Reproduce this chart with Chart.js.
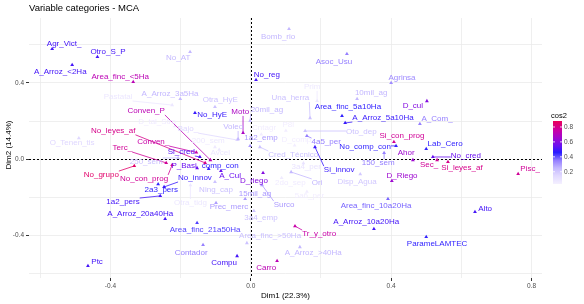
<!DOCTYPE html>
<html>
<head>
<meta charset="utf-8">
<script src="https://cdn.jsdelivr.net/npm/chart.js@4.4.1/dist/chart.umd.min.js"></script>
<style>
  html, body { margin: 0; padding: 0; background: #fff; }
  #wrap { width: 584px; height: 304px; }
</style>
</head>
<body>
<div id="wrap"><canvas id="mca" width="584" height="304"></canvas></div>
<script>
// --- 1. Data ---
const categories = [
  'Agr_Vict_', 'Otro_S_P', 'A_Arroz_<2Ha', 'Area_finc_<5Ha', 'No_AT', 'Bomb_rio', 'Asoc_Usu', 'No_reg',
  'Agrinsa', 'D_cul', 'A_Arroz_3a5Ha', 'Pastatal', 'Otra_HyE', 'No_HyE', 'Moto', '20mil_ag',
  'Conven_P', 'D_tal_Stro', 'Bajo_', 'Voleo', '1a2_emp', '200_sem', 'No_leyes_af', 'Conven_',
  'Terc_', 'Si_cred', '250_sem', 'P_Basi', 'comp_con', 'No_grupo', 'No_con_prog', 'No_innov',
  '2a3_pers', '1a2_pers', 'A_Arroz_20a40Ha', 'Area_finc_21a50Ha', 'Contador', 'Compu', 'Carro', 'A_Arroz_>40Ha',
  'Area_finc_>50Ha', '3a4_emp', 'Tr_y_otro', 'A_Arroz_10a20Ha', 'Area_finc_10a20Ha', 'Alto', 'ParameLAMTEC', 'Ptc',
  'Prec_merc', 'Otra_tidg', 'Ning_cap', 'A_Cul', 'D_riego', '15mil_ag', 'Surco', 'Ori',
  '2do_sep', 'Disp_Agua', 'Si_innov', '4a5_per', 'Oto_dep', 'No_comp_con', '150_sem', 'Area_finc_5a10Ha',
  'A_Arroz_5a10Ha', '10mil_ag', 'Prim', 'Una_herra', 'Cntagr', 'P8l', 'D_comp', 'Cred_Técnico',
  'Ahor', 'Si_con_prog', 'Lab_Cero', 'A_Com_', 'No_cred', 'Sec_', 'Si_leyes_af', 'Pisc_',
  'D_Riego', 'O_Tenen_tis', '3a4_per', '5a6_per', 'Avcel'
];
const dim1 = [
  -0.566, -0.437, -0.509, -0.335, -0.173, 0.109, 0.274, 0.015,
  0.400, 0.502, -0.201, -0.224, -0.102, -0.159, -0.022, -0.002,
  -0.115, -0.216, -0.039, -0.036, -0.002, -0.102, -0.130, -0.155,
  -0.241, -0.145, -0.207, -0.153, -0.120, -0.332, -0.224, -0.247,
  -0.264, -0.258, -0.244, -0.153, -0.136, -0.039, 0.075, 0.140,
  -0.011, 0.009, 0.126, 0.351, 0.391, 0.639, 0.500, -0.464,
  -0.099, -0.172, -0.102, -0.085, 0.035, -0.016, 0.032, 0.115,
  0.088, 0.312, 0.183, 0.160, 0.155, 0.414, 0.380, 0.260,
  0.269, 0.303, 0.189, 0.169, 0.030, 0.100, 0.125, 0.026,
  0.462, 0.408, 0.500, 0.482, 0.519, 0.531, 0.562, 0.762,
  0.402, -0.490, 0.150, 0.160, -0.090
];
const dim2 = [
  0.578, 0.536, 0.494, 0.405, 0.562, 0.683, 0.552, 0.416,
  0.400, 0.305, 0.316, 0.284, 0.274, 0.243, 0.138, 0.201,
  -0.004, 0.174, 0.101, 0.106, 0.070, 0.064, -0.019, 0.036,
  -0.019, 0.012, 0.007, -0.046, -0.050, -0.035, -0.030, -0.145,
  -0.130, -0.192, -0.313, -0.334, -0.449, -0.507, -0.533, -0.460,
  -0.439, -0.271, -0.350, -0.365, -0.208, -0.276, -0.407, -0.559,
  -0.229, -0.136, -0.119, -0.061, -0.072, -0.208, -0.135, -0.067,
  -0.098, -0.078, 0.064, 0.122, 0.148, 0.070, 0.033, 0.227,
  0.190, 0.316, 0.306, 0.216, 0.130, 0.150, 0.072, 0.064,
  -0.004, 0.091, 0.054, 0.185, 0.012, -0.004, -0.014, -0.077,
  -0.114, 0.110, -0.020, -0.170, 0.050
];
// repelled label positions, in Dim1 / Dim2 units
const labelDim1 = [
  -0.532, -0.407, -0.543, -0.372, -0.207, 0.078, 0.237, 0.046,
  0.431, 0.462, -0.230, -0.378, -0.087, -0.110, -0.030, 0.046,
  -0.298, -0.267, -0.179, -0.050, 0.029, -0.121, -0.392, -0.278,
  -0.366, -0.198, -0.298, -0.190, -0.087, -0.426, -0.304, -0.159,
  -0.255, -0.364, -0.315, -0.130, -0.170, -0.076, 0.044, 0.178,
  0.055, 0.029, 0.195, 0.329, 0.357, 0.668, 0.531, -0.438,
  -0.062, -0.172, -0.099, -0.059, 0.009, 0.012, 0.095, 0.189,
  0.113, 0.303, 0.252, 0.215, 0.315, 0.326, 0.363, 0.277,
  0.377, 0.343, 0.175, 0.113, 0.038, 0.107, 0.130, 0.121,
  0.443, 0.431, 0.554, 0.531, 0.613, 0.508, 0.602, 0.796,
  0.431, -0.509, 0.158, 0.167, -0.087
];
const labelDim2 = [
  0.604, 0.562, 0.457, 0.431, 0.531, 0.641, 0.510, 0.442,
  0.426, 0.279, 0.342, 0.326, 0.311, 0.232, 0.248, 0.258,
  0.253, 0.195, 0.158, 0.169, 0.112, 0.095, 0.149, 0.090,
  0.059, 0.038, -0.014, -0.035, -0.035, -0.083, -0.103, -0.098,
  -0.161, -0.224, -0.287, -0.371, -0.490, -0.543, -0.570, -0.491,
  -0.402, -0.308, -0.392, -0.329, -0.245, -0.260, -0.444, -0.538,
  -0.250, -0.229, -0.161, -0.088, -0.114, -0.182, -0.240, -0.124,
  -0.124, -0.119, -0.057, 0.090, 0.143, 0.064, -0.019, 0.274,
  0.216, 0.347, 0.379, 0.321, 0.164, 0.179, 0.101, 0.022,
  0.033, 0.122, 0.080, 0.211, 0.017, -0.030, -0.046, -0.051,
  -0.088, 0.085, -0.040, -0.192, 0.033
];
const cos2 = [
  0.50, 0.50, 0.50, 0.72, 0.25, 0.25, 0.35, 0.50,
  0.33, 0.60, 0.25, 0.08, 0.22, 0.48, 0.68, 0.25,
  0.72, 0.06, 0.15, 0.25, 0.30, 0.07, 0.80, 0.75,
  0.78, 0.52, 0.22, 0.55, 0.45, 0.85, 0.78, 0.48,
  0.45, 0.50, 0.50, 0.42, 0.35, 0.50, 0.72, 0.25,
  0.22, 0.22, 0.75, 0.50, 0.38, 0.50, 0.45, 0.50,
  0.30, 0.08, 0.22, 0.55, 0.60, 0.30, 0.30, 0.25,
  0.06, 0.20, 0.48, 0.35, 0.22, 0.45, 0.35, 0.45,
  0.48, 0.25, 0.07, 0.22, 0.05, 0.05, 0.05, 0.22,
  0.65, 0.78, 0.45, 0.35, 0.55, 0.78, 0.80, 0.78,
  0.65, 0.15, 0.10, 0.05, 0.08
];

const xGridValues = [-0.6, -0.4, -0.2, 0, 0.2, 0.4, 0.6, 0.8];
const yGridValues = [-0.6, -0.4, -0.2, 0, 0.2, 0.4, 0.6];
const xTickLabels = { '-0.4': '-0.4', '0': '0.0', '0.4': '0.4', '0.8': '0.8' };
const yTickLabels = { '-0.4': '-0.4', '0': '0.0', '0.4': '0.4' };
const legendTicks = [0.2, 0.4, 0.6, 0.8];
const COS2_MIN = 0.036, COS2_MAX = 0.88;

// --- 2. Colour scale (white -> blue -> red) ---
const COLOR_STOPS = [
  [0.036, [244, 240, 255]],
  [0.15, [224, 216, 255]],
  [0.25, [196, 184, 255]],
  [0.35, [150, 128, 255]],
  [0.46, [40, 26, 255]],
  [0.55, [106, 16, 240]],
  [0.65, [158, 8, 208]],
  [0.75, [200, 0, 168]],
  [0.88, [234, 0, 88]]
];

function cos2Color(v) {
  if (v <= COLOR_STOPS[0][0]) return `rgb(${COLOR_STOPS[0][1].join(',')})`;
  for (let i = 1; i < COLOR_STOPS.length; i++) {
    const [v1, c1] = COLOR_STOPS[i];
    const [v0, c0] = COLOR_STOPS[i - 1];
    if (v <= v1) {
      const t = (v - v0) / (v1 - v0);
      const c = c0.map((k, j) => Math.round(k + (c1[j] - k) * t));
      return `rgb(${c.join(',')})`;
    }
  }
  return `rgb(${COLOR_STOPS[COLOR_STOPS.length - 1][1].join(',')})`;
}

const pointColors = cos2.map(cos2Color);
const LABEL_FONT = '8px "Liberation Sans", Arial, sans-serif';

// --- 3. Drawing plugin: zero lines, repelled labels, title, legend ---
const mcaPlugin = {
  id: 'mcaDecor',
  beforeDatasetsDraw(chart) {
    const { ctx, chartArea: a, scales: { x, y } } = chart;
    ctx.save();
    ctx.strokeStyle = '#000';
    ctx.lineWidth = 1;
    ctx.setLineDash([2, 2]);
    const x0 = Math.round(x.getPixelForValue(0)) + 0.5;
    const y0 = Math.round(y.getPixelForValue(0)) + 0.5;
    ctx.beginPath();
    ctx.moveTo(x0, a.top); ctx.lineTo(x0, a.bottom);
    ctx.moveTo(a.left, y0); ctx.lineTo(a.right, y0);
    ctx.stroke();
    ctx.restore();
  },
  afterDatasetsDraw(chart) {
    const { ctx, scales: { x, y } } = chart;
    ctx.save();
    ctx.font = LABEL_FONT;
    ctx.textAlign = 'center';
    ctx.textBaseline = 'middle';
    categories.forEach((name, i) => {
      const px = x.getPixelForValue(dim1[i]);
      const py = y.getPixelForValue(dim2[i]);
      const lx = x.getPixelForValue(labelDim1[i]);
      const ly = y.getPixelForValue(labelDim2[i]);
      const w = ctx.measureText(name).width;
      const h = 8;
      // segment from point to the nearest edge of the label box
      const nx = Math.min(Math.max(px, lx - w / 2), lx + w / 2);
      const ny = Math.min(Math.max(py, ly - h / 2), ly + h / 2);
      if (Math.hypot(nx - px, ny - py) > 5) {
        ctx.strokeStyle = pointColors[i];
        ctx.lineWidth = 0.8;
        ctx.beginPath();
        ctx.moveTo(px, py);
        ctx.lineTo(nx, ny);
        ctx.stroke();
      }
      ctx.fillStyle = pointColors[i];
      ctx.fillText(name, lx, ly);
    });
    ctx.restore();
  },
  afterDraw(chart) {
    const { ctx, chartArea: a } = chart;
    ctx.save();
    // title
    ctx.fillStyle = '#000';
    ctx.font = '9.5px "Liberation Sans", Arial, sans-serif';
    ctx.textAlign = 'left';
    ctx.textBaseline = 'middle';
    ctx.fillText('Variable categories - MCA', a.left, 8);
    // axis titles
    ctx.font = '8px "Liberation Sans", Arial, sans-serif';
    ctx.textAlign = 'center';
    ctx.fillText('Dim1 (22.3%)', (a.left + a.right) / 2, 296);
    ctx.save();
    ctx.translate(9, (a.top + a.bottom) / 2 - 3);
    ctx.rotate(-Math.PI / 2);
    ctx.fillText('Dim2 (14.4%)', 0, 0);
    ctx.restore();

    // colour bar legend
    const barL = 553, barW = 9, barTop = 121, barBot = 184;
    const grad = ctx.createLinearGradient(0, barBot, 0, barTop);
    COLOR_STOPS.forEach(([v, c]) => {
      grad.addColorStop((v - COS2_MIN) / (COS2_MAX - COS2_MIN), `rgb(${c.join(',')})`);
    });
    ctx.fillStyle = grad;
    ctx.fillRect(barL, barTop, barW, barBot - barTop);
    ctx.fillStyle = '#000';
    ctx.textAlign = 'left';
    ctx.font = '7.5px "Liberation Sans", Arial, sans-serif';
    ctx.fillText('cos2', 551, 116);
    ctx.font = '6.5px "Liberation Sans", Arial, sans-serif';
    legendTicks.forEach(v => {
      const ty = barBot - (v - COS2_MIN) / (COS2_MAX - COS2_MIN) * (barBot - barTop);
      ctx.strokeStyle = '#fff';
      ctx.lineWidth = 0.8;
      ctx.beginPath();
      ctx.moveTo(barL, ty); ctx.lineTo(barL + 2, ty);
      ctx.moveTo(barL + barW - 2, ty); ctx.lineTo(barL + barW, ty);
      ctx.stroke();
      ctx.fillStyle = '#4d4d4d';
      ctx.fillText(v.toFixed(1), 564, ty);
    });
    ctx.restore();
  }
};

// --- 4. Chart ---
const gridStyle = (labels) => ({
  color: '#ebebeb',
  lineWidth: 0.8,
  drawTicks: true,
  tickLength: 3,
  tickWidth: 1,
  tickColor: ctx => (ctx.tick && labels[String(+ctx.tick.value.toFixed(2))] !== undefined) ? '#333' : 'rgba(0,0,0,0)'
});

new Chart(document.getElementById('mca').getContext('2d'), {
  type: 'scatter',
  data: {
    datasets: [{
      data: dim1.map((v, i) => ({ x: v, y: dim2[i] })),
      pointStyle: 'triangle',
      pointRadius: 2.2,
      pointBorderWidth: 0,
      backgroundColor: pointColors,
      borderColor: pointColors
    }]
  },
  options: {
    responsive: false,
    animation: false,
    devicePixelRatio: 1,
    layout: { padding: { left: 0, right: 42, top: 18, bottom: 0 } },
    plugins: { legend: { display: false }, tooltip: { enabled: false } },
    scales: {
      x: {
        type: 'linear',
        min: -0.632,
        max: 0.83,
        afterBuildTicks: s => { s.ticks = xGridValues.map(v => ({ value: v })); },
        afterFit: s => { s.height = 26; },
        border: { display: false },
        grid: gridStyle(xTickLabels),
        ticks: {
          padding: 1,
          color: '#4d4d4d',
          font: { family: '"Liberation Sans", Arial, sans-serif', size: 6.5 },
          maxRotation: 0,
          autoSkip: false,
          callback: v => xTickLabels[String(+v.toFixed(2))] || ''
        }
      },
      y: {
        type: 'linear',
        min: -0.622,
        max: 0.74,
        afterBuildTicks: s => { s.ticks = yGridValues.map(v => ({ value: v })); },
        afterFit: s => { s.width = 29; },
        border: { display: false },
        grid: gridStyle(yTickLabels),
        ticks: {
          padding: 2,
          color: '#4d4d4d',
          font: { family: '"Liberation Sans", Arial, sans-serif', size: 6.5 },
          autoSkip: false,
          callback: v => yTickLabels[String(+v.toFixed(2))] || ''
        }
      }
    }
  },
  plugins: [mcaPlugin]
});
</script>
</body>
</html>
